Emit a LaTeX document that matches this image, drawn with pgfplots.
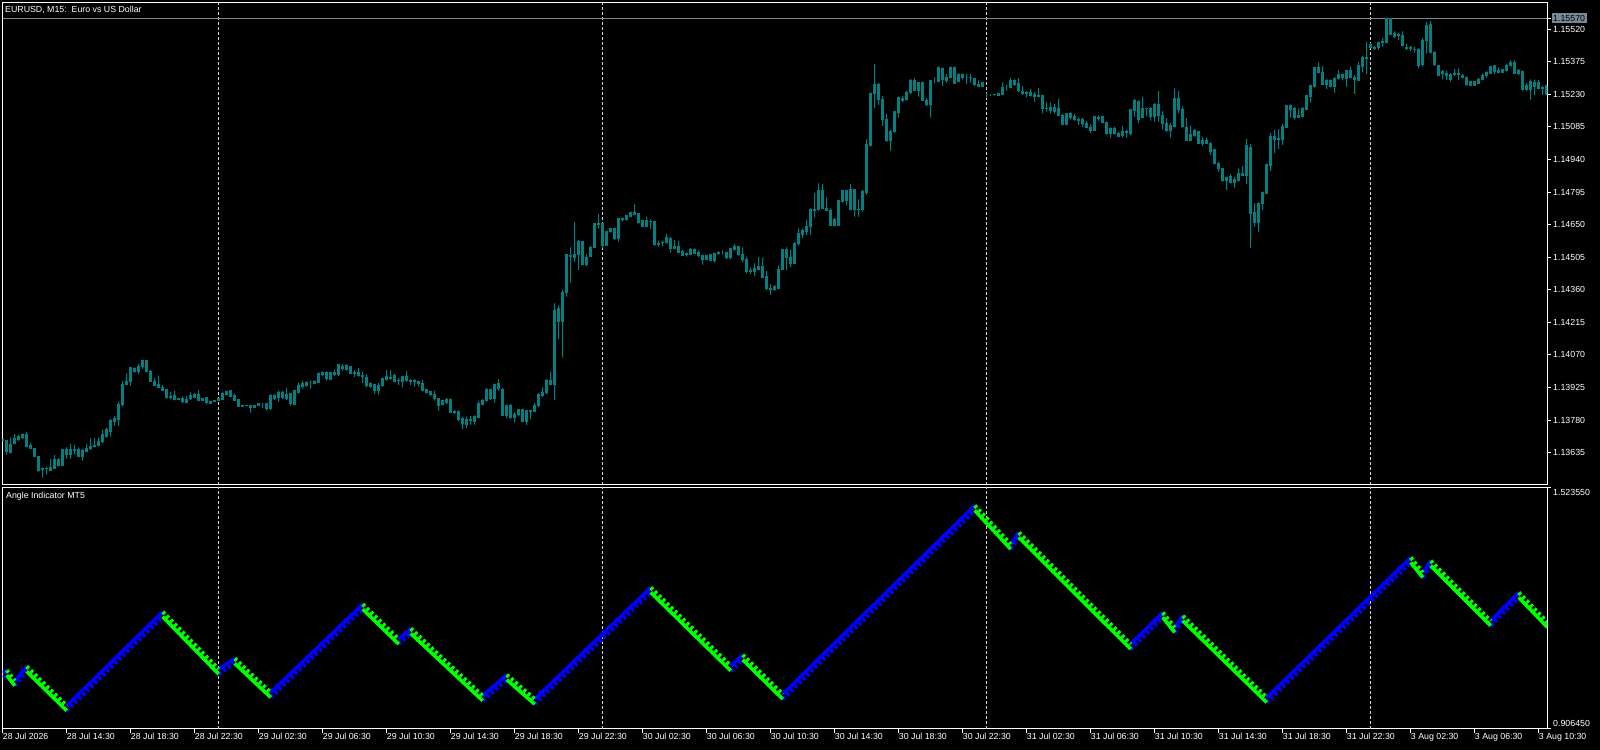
\documentclass[border=0pt]{standalone}
\usepackage{fontspec}
\setmainfont{Liberation Sans}
\usepackage{pgfplots}
\usepackage{pgfplotstable}
\pgfplotsset{compat=1.18}

\definecolor{candle}{RGB}{0,128,128}
\definecolor{bidgray}{RGB}{119,136,153}
\definecolor{upblue}{RGB}{0,0,255}
\definecolor{dngreen}{RGB}{0,255,0}

% EURUSD M15 bars: bar index, open, high, low, close in pips above 1.13000
\pgfplotstableread{
i o h l c
0 69.2 69.6 68.6 69.0
1 68.7 68.7 62.5 64.0
2 63.7 70.2 63.2 67.2
3 67.5 71.7 67.2 69.6
4 69.3 71.4 68.7 70.8
5 70.4 72.1 69.5 71.8
6 71.7 72.6 65.8 66.2
7 66.5 67.7 65.3 65.3
8 65.5 65.5 61.7 61.7
9 61.9 61.9 55.1 55.5
10 56.4 56.8 52.5 55.8
11 56.4 57.3 53.7 56.5
12 55.7 60.7 55.7 56.8
13 56.3 62.5 56.3 60.3
14 60.3 61.0 57.3 57.7
15 57.7 64.7 57.7 64.7
16 64.7 65.9 60.7 62.6
17 62.6 67.4 60.7 64.7
18 64.7 66.8 62.8 64.5
19 64.7 65.8 61.7 62.0
20 62.0 65.3 60.0 64.3
21 64.1 67.4 64.0 65.3
22 65.2 69.9 64.7 66.3
23 66.3 70.0 65.8 66.6
24 66.6 70.2 66.3 68.6
25 68.4 73.6 67.7 71.7
26 70.9 74.8 70.2 73.6
27 72.7 78.4 70.6 77.6
28 77.2 79.9 75.5 78.7
29 78.4 86.1 75.4 85.0
30 85.0 95.4 84.0 93.9
31 93.8 98.8 93.5 95.3
32 95.3 101.5 93.2 101.2
33 101.1 101.5 99.1 99.7
34 99.6 103.0 98.3 101.7
35 101.7 104.9 100.9 104.6
36 104.6 104.6 99.6 99.6
37 99.7 100.3 95.0 95.1
38 95.3 96.9 93.2 93.5
39 93.8 97.8 92.2 92.5
40 92.3 93.7 91.0 91.3
41 91.4 91.7 87.6 88.2
42 88.2 90.5 87.3 88.3
43 88.8 91.1 86.8 87.0
44 87.7 87.8 87.2 87.3
45 87.7 88.5 85.5 86.1
46 85.9 88.8 85.5 87.3
47 87.6 90.4 87.0 88.9
48 88.2 90.2 87.9 89.6
49 89.6 91.4 86.4 86.7
50 86.7 87.7 86.5 87.7
51 87.9 88.2 85.0 85.9
52 86.4 86.5 85.5 85.5
53 86.4 86.8 86.1 86.7
54 86.7 87.6 86.6 87.4
55 87.1 90.7 87.0 89.9
56 89.3 91.1 89.0 90.8
57 91.0 91.0 88.6 88.6
58 88.8 89.9 86.4 86.8
59 87.1 87.1 84.2 84.2
60 84.6 84.9 84.0 84.2
61 84.6 84.7 84.1 84.3
62 84.6 84.6 81.3 83.6
63 83.4 84.6 83.4 84.6
64 84.6 85.7 84.5 85.6
65 85.5 85.6 83.3 85.5
66 85.5 85.5 82.2 83.3
67 83.0 89.5 82.7 88.8
68 87.6 89.5 87.0 88.8
69 88.2 91.1 86.1 90.4
70 90.4 91.1 87.3 87.9
71 87.6 92.2 87.0 89.5
72 89.8 90.1 84.4 85.3
73 85.0 91.0 84.8 91.0
74 90.5 94.7 89.9 93.2
75 92.9 95.4 92.0 94.2
76 93.5 95.3 92.9 94.7
77 94.4 95.7 92.0 94.4
78 94.2 95.7 93.9 95.3
79 94.7 99.1 94.7 98.7
80 98.3 99.7 97.6 99.1
81 99.0 99.7 95.6 96.5
82 96.2 99.6 95.9 99.4
83 99.3 100.6 97.6 98.3
84 98.3 103.0 97.7 102.7
85 102.0 103.0 100.0 100.8
86 100.6 103.0 100.0 102.3
87 102.0 102.0 98.7 98.8
88 98.8 100.3 97.1 99.0
89 99.4 101.1 97.4 98.0
90 97.2 99.6 94.5 97.7
91 97.1 98.3 92.6 93.2
92 93.1 94.7 92.5 94.2
93 93.8 94.2 89.8 91.3
94 91.3 94.4 89.3 93.2
95 93.5 96.9 92.9 96.5
96 96.0 100.3 95.6 97.4
97 96.7 100.3 96.0 97.1
98 97.8 98.8 94.8 95.0
99 95.4 96.8 93.7 95.6
100 95.1 97.7 92.6 97.2
101 97.2 99.9 95.1 95.6
102 95.6 96.3 93.7 95.0
103 95.4 96.2 92.9 95.0
104 95.0 95.6 92.9 94.1
105 94.2 95.9 90.8 91.1
106 91.4 92.0 89.8 90.2
107 90.7 91.1 88.9 89.5
108 89.5 91.1 86.7 87.4
109 87.7 87.7 82.2 84.5
110 85.0 87.0 84.6 86.5
111 85.8 87.9 85.2 87.3
112 87.0 87.7 81.2 81.3
113 81.8 82.5 80.7 81.2
114 81.6 82.2 77.5 78.1
115 78.7 79.3 73.9 76.6
116 76.2 79.6 74.4 78.4
117 78.4 79.9 76.0 77.8
118 77.5 80.1 76.0 79.6
119 79.3 86.5 79.0 85.2
120 84.9 87.3 84.6 86.8
121 86.5 92.2 86.2 91.6
122 91.4 91.9 87.0 87.4
123 87.6 94.2 85.8 93.9
124 94.2 96.2 91.1 91.9
125 91.7 92.2 79.9 80.1
126 80.1 84.8 78.8 84.5
127 84.5 85.2 78.7 79.3
128 79.3 81.5 77.0 80.7
129 80.4 83.0 79.7 82.5
130 82.7 83.0 77.0 77.3
131 77.3 82.5 75.8 82.1
132 82.1 82.2 78.4 82.0
133 81.8 85.5 81.5 84.6
134 84.3 90.0 83.7 89.2
135 88.8 92.6 88.2 90.5
136 90.2 96.2 89.6 95.4
137 95.4 99.4 93.4 93.7
138 93.7 130.0 87.0 127.0
139 127.5 129.1 114.1 121.9
140 121.9 136.2 105.8 134.8
141 134.9 152.0 133.0 151.5
142 150.9 154.9 139.2 151.4
143 150.6 166.2 148.6 151.8
144 151.8 158.2 144.9 157.3
145 157.3 157.6 147.1 147.4
146 147.4 152.0 146.3 150.5
147 150.8 155.5 150.5 154.9
148 154.9 165.6 154.9 165.3
149 165.0 169.8 163.3 165.6
150 165.6 165.9 154.5 155.8
151 155.8 162.1 155.8 162.1
152 161.9 163.4 161.6 163.1
153 163.1 163.7 158.2 158.7
154 158.7 167.9 157.5 167.6
155 167.3 168.3 166.4 167.7
156 167.1 169.3 166.8 168.9
157 168.6 170.6 168.3 170.4
158 170.5 174.2 169.3 169.5
159 169.8 170.1 165.5 165.8
160 166.7 167.1 163.9 164.2
161 164.2 168.6 163.9 166.7
162 166.2 167.4 163.0 166.4
163 166.2 166.8 155.7 156.0
164 156.7 157.9 155.2 156.2
165 157.2 157.9 155.2 156.9
166 157.2 160.9 156.7 159.1
167 159.0 159.4 152.6 154.5
168 154.6 158.2 154.1 155.5
169 155.2 157.8 152.3 152.7
170 152.9 153.8 151.1 151.4
171 152.0 152.6 150.8 151.6
172 151.7 154.5 151.4 153.8
173 153.8 154.4 152.0 152.3
174 152.4 153.5 150.4 151.2
175 151.4 151.7 147.2 149.6
176 149.3 151.4 149.3 151.4
177 151.5 151.5 149.0 149.0
178 149.0 152.6 148.1 152.3
179 152.6 153.2 151.7 152.3
180 152.6 153.5 151.7 152.6
181 152.6 153.0 149.6 150.4
182 150.4 154.5 149.6 154.2
183 154.1 156.4 153.5 155.2
184 155.1 155.2 151.2 151.7
185 151.8 154.9 148.4 149.5
186 149.6 150.8 143.4 144.1
187 144.8 145.9 143.1 144.3
188 144.1 147.8 142.2 145.3
189 144.9 150.6 144.6 146.5
190 146.5 150.3 141.4 141.7
191 142.0 144.4 135.7 136.4
192 136.7 138.5 133.7 136.3
193 136.1 138.0 135.5 137.4
194 136.7 146.9 136.3 145.2
195 145.2 153.8 145.2 153.8
196 153.8 154.9 144.9 150.5
197 150.5 153.8 146.0 147.8
198 147.8 157.2 147.5 156.7
199 156.4 163.4 155.7 161.2
200 160.4 163.4 159.0 162.2
201 161.9 167.1 160.4 164.4
202 164.2 172.3 160.4 171.6
203 171.3 179.0 168.2 171.9
204 171.6 183.4 171.3 180.0
205 180.0 183.1 171.9 172.2
206 172.2 177.2 171.1 171.4
207 171.4 172.3 164.6 164.6
208 167.1 167.9 164.2 164.6
209 164.6 175.6 164.6 175.6
210 175.3 180.5 174.8 180.0
211 180.0 180.2 173.5 175.7
212 171.9 183.0 171.6 180.5
213 180.5 180.8 168.6 171.9
214 171.9 176.3 168.6 171.6
215 171.6 180.5 170.8 179.7
216 179.4 203.0 178.2 200.5
217 200.2 223.8 199.8 223.5
218 223.2 236.6 216.8 227.5
219 227.2 228.0 218.3 220.8
220 220.8 222.3 209.0 211.9
221 211.9 214.3 202.0 202.4
222 202.4 207.2 198.0 206.3
223 206.3 215.6 206.0 215.3
224 215.1 222.0 212.7 221.4
225 221.3 222.2 219.4 220.2
226 220.8 224.5 220.2 224.0
227 224.0 229.9 223.1 229.4
228 229.4 230.3 224.3 224.7
229 224.7 228.6 222.0 228.3
230 228.3 228.7 220.1 220.2
231 220.5 221.3 217.9 218.3
232 218.3 229.4 212.7 229.0
233 228.9 230.6 228.0 228.9
234 228.9 235.4 228.6 234.9
235 234.6 234.9 226.8 229.7
236 229.4 232.0 228.0 230.6
237 230.5 235.4 230.2 235.1
238 235.1 235.4 227.7 228.0
239 228.6 232.4 228.3 231.7
240 231.7 232.4 229.7 230.6
241 230.6 232.1 227.7 230.6
242 230.6 232.0 228.2 230.5
243 230.2 230.5 226.8 227.2
244 227.2 229.2 226.2 226.5
245 226.5 228.6 226.3 228.4
246 222.8 223.8 221.3 222.8
247 222.5 223.0 222.2 222.5
248 222.8 223.2 222.5 222.9
249 222.6 223.5 222.5 223.4
250 222.9 228.4 222.8 226.2
251 226.2 227.2 224.7 226.2
252 226.2 230.3 225.7 229.2
253 229.4 229.7 226.9 227.5
254 228.0 230.2 224.1 224.7
255 224.4 226.8 222.8 223.5
256 223.8 224.4 221.6 223.5
257 222.5 225.3 222.0 224.0
258 222.8 224.1 219.8 222.0
259 222.3 225.9 221.7 222.0
260 222.3 222.8 214.6 216.8
261 216.8 219.4 215.3 216.9
262 217.3 219.4 214.4 215.9
263 215.6 218.8 214.4 217.1
264 216.8 221.0 213.4 213.6
265 213.7 214.3 209.4 209.7
266 209.7 214.6 209.7 214.6
267 214.6 215.0 211.9 212.7
268 213.0 214.3 211.3 211.9
269 211.9 212.7 209.4 211.5
270 211.6 212.8 208.4 210.2
271 209.9 211.2 207.9 208.4
272 208.4 209.7 205.7 206.9
273 206.9 213.0 206.9 213.0
274 212.7 213.7 211.3 212.4
275 213.0 213.4 210.1 210.6
276 210.6 210.9 205.0 205.7
277 205.7 208.3 203.8 207.6
278 207.8 208.7 205.2 205.7
279 205.4 206.3 204.2 204.4
280 204.6 209.0 203.9 206.4
281 206.6 207.2 203.8 205.9
282 205.7 216.5 204.8 216.1
283 215.8 221.0 213.1 220.1
284 219.8 220.2 210.2 211.9
285 212.8 222.0 212.4 216.5
286 216.5 216.9 213.4 216.9
287 216.8 217.3 211.3 213.1
288 213.1 219.1 210.9 218.5
289 218.3 224.4 210.9 213.6
290 213.7 215.6 207.5 210.2
291 210.2 212.4 206.4 206.9
292 206.9 210.2 203.8 209.0
293 208.7 225.7 208.4 221.3
294 221.3 224.5 214.6 216.1
295 216.1 217.6 208.2 208.7
296 208.4 212.4 202.3 202.4
297 202.4 209.1 202.3 205.0
298 204.8 207.5 204.2 206.7
299 206.4 206.7 201.0 201.2
300 202.4 204.2 200.1 201.2
301 202.3 203.8 201.0 201.2
302 201.2 201.6 196.1 197.5
303 198.3 198.6 191.8 192.1
304 192.4 192.9 188.6 190.1
305 189.8 190.1 184.2 184.6
306 184.6 186.4 180.5 186.1
307 186.3 187.5 183.4 183.7
308 183.7 186.4 181.5 184.9
309 184.6 190.1 184.2 187.6
310 187.6 191.2 186.7 186.9
311 186.9 203.2 183.1 200.1
312 199.5 201.0 154.5 170.1
313 170.5 174.5 164.1 165.9
314 165.9 174.8 161.9 174.3
315 174.3 179.7 171.6 179.3
316 179.0 192.0 178.7 191.6
317 191.3 205.7 188.9 204.2
318 204.2 207.2 196.8 203.0
319 203.0 207.5 198.6 203.5
320 203.0 209.9 200.5 208.7
321 208.4 218.2 208.1 217.9
322 217.9 218.6 212.7 216.4
323 216.5 217.3 211.9 212.7
324 213.4 216.8 212.4 212.8
325 213.1 217.3 212.8 216.8
326 216.4 222.8 216.1 222.3
327 222.0 227.2 219.4 226.8
328 226.5 235.4 226.0 235.1
329 235.1 237.2 232.4 232.8
330 232.8 235.7 227.2 227.5
331 227.2 229.9 225.4 229.0
332 229.2 229.7 226.2 226.5
333 226.5 230.6 223.8 230.2
334 230.2 233.9 229.7 232.0
335 232.0 232.4 229.2 230.6
336 230.2 233.9 226.5 233.5
337 233.5 235.4 230.2 230.5
338 230.6 231.7 223.2 229.7
339 229.4 237.5 229.2 235.7
340 235.4 240.1 232.8 239.5
341 239.1 246.5 232.1 239.5
342 245.0 245.8 243.5 244.0
343 243.8 244.6 242.8 243.5
344 244.0 246.5 242.8 246.2
345 246.1 247.9 244.3 246.5
346 246.1 257.0 245.8 257.0
347 257.0 257.0 249.5 249.8
348 248.7 251.0 248.0 250.2
349 249.8 250.5 247.3 249.0
350 249.0 251.0 244.3 244.6
351 244.0 245.5 242.8 243.5
352 243.4 244.6 242.1 243.7
353 243.2 244.3 241.6 242.8
354 243.1 243.5 234.6 235.7
355 236.1 248.0 235.4 247.0
356 246.8 255.3 241.3 253.5
357 254.2 255.6 241.3 241.8
358 241.8 242.4 235.7 236.1
359 235.8 236.1 231.2 231.5
360 232.1 233.9 229.7 233.2
361 232.1 233.6 229.5 231.2
362 232.0 232.4 228.7 229.5
363 232.4 234.3 231.2 231.7
364 231.7 234.6 229.5 232.4
365 231.5 232.1 230.3 230.6
366 230.5 230.9 226.8 227.2
367 226.9 229.0 226.8 228.7
368 228.7 228.7 226.9 226.9
369 228.0 230.2 227.7 229.6
370 229.5 232.4 229.2 231.2
371 231.2 233.2 230.5 232.7
372 232.4 235.7 232.1 235.4
373 235.7 235.7 232.0 233.2
374 233.6 234.9 232.4 232.7
375 232.7 233.9 232.7 233.9
376 233.6 236.6 233.3 235.7
377 235.7 238.1 235.4 237.2
378 237.2 238.1 232.1 232.4
379 233.6 234.2 231.7 232.1
380 233.3 233.6 224.7 225.0
381 225.0 228.0 224.3 226.8
382 228.6 229.7 220.5 225.3
383 226.5 229.5 222.8 228.3
384 228.3 229.5 225.3 225.7
385 226.2 226.8 222.8 225.6
386 222.8 226.8 222.8 226.8
}\candles

% Angle Indicator turning points, rising legs
\pgfplotstableread{
i v
0 1.05657
1 1.06245
nan nan
3 1.03535
6 1.07190
nan nan
16 0.97145
40 1.21172
nan nan
54 1.06500
58 1.09235
nan nan
67 1.00545
90 1.23114
nan nan
99 1.14168
102 1.16903
nan nan
120 0.99701
126 1.05069
nan nan
133 0.98832
162 1.27383
nan nan
182 1.07369
185 1.10181
nan nan
195 1.00110
243 1.48342
nan nan
252 1.38450
254 1.41441
nan nan
282 1.12890
290 1.20993
nan nan
293 1.17159
295 1.20149
nan nan
316 0.99267
352 1.35051
nan nan
355 1.31217
357 1.34207
nan nan
372 1.18871
379 1.26105
}\angleup

% falling legs
\pgfplotstableread{
i v
1 1.06245
3 1.03535
nan nan
6 1.07190
16 0.97145
nan nan
40 1.21172
54 1.06500
nan nan
58 1.09235
67 1.00545
nan nan
90 1.23114
99 1.14168
nan nan
102 1.16903
120 0.99701
nan nan
126 1.05069
133 0.98832
nan nan
162 1.27383
182 1.07369
nan nan
185 1.10181
195 1.00110
nan nan
243 1.48342
252 1.38450
nan nan
254 1.41441
282 1.12890
nan nan
290 1.20993
293 1.17159
nan nan
295 1.20149
316 0.99267
nan nan
352 1.35051
355 1.31217
nan nan
357 1.34207
372 1.18871
nan nan
379 1.26105
386.2 1.18437
}\angledn

\pgfplotsset{
  mtpanel/.style={
    scale only axis, width=1544.5bp,
    xmin=-0.05, xmax=386.075,
    axis line style={white, line width=1bp},
    tick style={white, line width=1bp},
    tick align=outside, major tick length=4bp,
    ytick pos=right, yticklabel pos=right,
    tick label style={white, font=\fontsize{8.8bp}{10bp}\selectfont},
    yticklabel style={anchor=west, inner sep=0pt, xshift=2bp},
    extra x ticks={54,150,246,342}, extra x tick labels={},
    extra x tick style={major tick length=0pt, grid=major,
      major grid style={white!85!black, line width=1bp, dash pattern=on 3bp off 2bp}},
  },
}

\begin{document}
\begin{tikzpicture}
\path[use as bounding box, fill=black] (0,0) rectangle (1600bp,750bp);

% price panel: candles as stacked bars (low, wick, back down to body, bull body, bear body)
\begin{axis}[mtpanel,
  at={(2.5bp,265bp)}, anchor=south west, height=482.7bp,
  ymin=49.1, ymax=264.0,
  ybar stacked, stack negative=on previous,
  xtick=\empty,
  ytick={63.5,78,92.5,107,121.5,136,150.5,165,179.5,194,208.5,223,237.5,252},
  yticklabels={1.13635,1.13780,1.13925,1.14070,1.14215,1.14360,1.14505,1.14650,1.14795,1.14940,1.15085,1.15230,1.15375,1.15520},
  extra y ticks={257}, extra y tick labels={1.15570},
  extra y tick style={grid=major, major grid style={bidgray, line width=1bp},
    yticklabel style={fill=bidgray, text=black, inner xsep=1.5bp, inner ysep=1.5bp, xshift=-1.5bp}},
]
\addplot[draw=none, fill=none, bar width=1bp] table[x=i, y=l] {\candles};
\addplot[draw=none, fill=candle, bar width=1bp] table[x=i, y expr={\thisrow{h}-\thisrow{l}}] {\candles};
\addplot[draw=none, fill=none, bar width=1bp] table[x=i, y expr={min(\thisrow{o},\thisrow{c})-\thisrow{h}}] {\candles};
\addplot[draw=candle, line width=1bp, fill=black, bar width=2bp]
  table[x=i, y expr={(\thisrow{c}>\thisrow{o})*(\thisrow{c}-\thisrow{o})}] {\candles};
\addplot[draw=candle, line width=1bp, fill=white, bar width=2bp]
  table[x=i, y expr={(\thisrow{o}>\thisrow{c})*(\thisrow{o}-\thisrow{c})}] {\candles};
\node[anchor=west, inner sep=0pt, xshift=2.5bp, yshift=-7.7bp, white,
  font=\fontsize{8.8bp}{10bp}\selectfont] at (rel axis cs:0,1) {EURUSD, M15:~~Euro vs US Dollar};
\end{axis}

% indicator panel
\begin{axis}[mtpanel,
  at={(2.5bp,21.3bp)}, anchor=south west, height=241.4bp,
  ymin=0.90645, ymax=1.52355,
  xtick={0,16,...,384}, xtick pos=bottom,
  xticklabels={28 Jul 2026, 28 Jul 14:30, 28 Jul 18:30, 28 Jul 22:30, 29 Jul 02:30, 29 Jul 06:30, 29 Jul 10:30, 29 Jul 14:30, 29 Jul 18:30, 29 Jul 22:30, 30 Jul 02:30, 30 Jul 06:30, 30 Jul 10:30, 30 Jul 14:30, 30 Jul 18:30, 30 Jul 22:30, 31 Jul 02:30, 31 Jul 06:30, 31 Jul 10:30, 31 Jul 14:30, 31 Jul 18:30, 31 Jul 22:30, 3 Aug 02:30, 3 Aug 06:30, 3 Aug 10:30},
  xticklabel style={anchor=north west, inner sep=0pt, yshift=-0.5bp},
  ytick={1.52355}, yticklabels={1.523550},
  yticklabel style={anchor=north west, yshift=-1.5bp},
  extra y ticks={0.90645}, extra y tick labels={0.906450},
  extra y tick style={yticklabel style={anchor=south west, yshift=3bp}},
  unbounded coords=jump,
]
\addplot[upblue, line width=3.6bp] table[x=i, y expr={\thisrow{v}-0.0065}] {\angleup};
\addplot[upblue, line width=4bp, dash pattern=on 3bp off 2.6bp] table[x=i, y expr={\thisrow{v}-0.0190}] {\angleup};
\addplot[dngreen, line width=3.6bp] table[x=i, y expr={\thisrow{v}-0.0190}] {\angledn};
\addplot[dngreen, line width=4bp, dash pattern=on 3bp off 2.6bp] table[x=i, y expr={\thisrow{v}-0.0065}] {\angledn};
\node[anchor=west, inner sep=0pt, xshift=3.5bp, yshift=-8.7bp, white,
  font=\fontsize{8.8bp}{10bp}\selectfont] at (rel axis cs:0,1) {Angle Indicator MT5};
\end{axis}
\end{tikzpicture}
\end{document}
